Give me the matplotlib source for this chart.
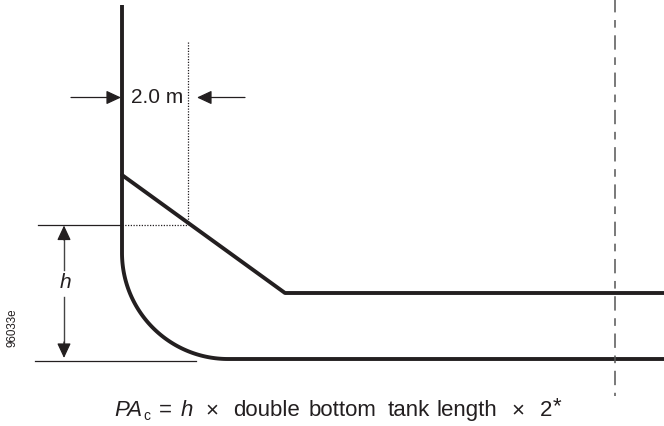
import numpy as np
import matplotlib
matplotlib.use("Agg")
import matplotlib.pyplot as plt

plt.rcParams['font.family'] = ['Liberation Sans', 'DejaVu Sans']

W, H = 664, 426
INK = '#231f20'

# Drawing values (pixel coordinates, y downwards)
hull_x = [122, 122]
hull_y = [5, 253]
arc_centre = (228, 253)
arc_radii = (106, 106)
keel_x = [228, 664]
keel_y = [359, 359]
tank_x = [122, 285, 664]
tank_y = [175, 293, 293]
top_ref_x = [38, 122]
top_ref_y = [224.5, 224.5]
bottom_ref_x = [35, 196]
bottom_ref_y = [360.5, 360.5]
dot_v_x = [188, 188]
dot_v_y = [42, 224.5]
dot_h_x = [122, 188]
dot_h_y = [224.5, 224.5]
centre_x = [615, 615]
centre_y = [0, 396]

fig = plt.figure(figsize=(W / 100, H / 100), dpi=100)
ax = fig.add_axes([0, 0, 1, 1])
ax.set_xlim(0, W)
ax.set_ylim(H, 0)
ax.axis('off')

theta = np.radians(np.linspace(180, 90, 80))
arc_x = arc_centre[0] + arc_radii[0] * np.cos(theta)
arc_y = arc_centre[1] + arc_radii[1] * np.sin(theta)
ax.plot(np.r_[hull_x, arc_x, keel_x], np.r_[hull_y, arc_y, keel_y],
        color=INK, lw=2.8, solid_joinstyle='round', solid_capstyle='butt')
ax.plot(tank_x, tank_y, color=INK, lw=2.8, solid_joinstyle='round', solid_capstyle='round')

ax.plot(top_ref_x, top_ref_y, color=INK, lw=0.9)
ax.plot(bottom_ref_x, bottom_ref_y, color=INK, lw=0.9)
ax.plot(dot_v_x, dot_v_y, color=INK, lw=0.9, ls=(0, (1, 1.2)))
ax.plot(dot_h_x, dot_h_y, color=INK, lw=0.9, ls=(0, (1, 1.2)))
ax.plot(centre_x, centre_y, color='#555555', lw=1.1,
        ls=(1.3, (9.4, 5, 5, 5)))


def arrow(tip, tail):
    ax.annotate('', xy=tip, xytext=tail,
                arrowprops=dict(arrowstyle='-|>,head_length=0.9,head_width=0.42',
                                color=INK, lw=0.9, shrinkA=0, shrinkB=0,
                                mutation_scale=10))


arrow((121, 97.5), (71, 97.5))
arrow((197, 97.5), (245, 97.5))
ax.plot([64, 64], [235, 270], color='#444444', lw=1)
ax.plot([64, 64], [297, 347], color='#444444', lw=1)
arrow((64, 225.5), (64, 240))
arrow((64, 358), (64, 342))

ax.text(131, 97.5, '2.0 m', fontsize=15, color=INK, va='center', ha='left')
ax.text(65, 283, 'h', fontsize=15, color=INK, style='italic', va='center', ha='center')
ax.text(12, 328, '96033e', fontsize=8.4, color=INK, rotation=90, va='center', ha='center')

base = 416
for x, s, kw in [
    (114, 'PA', dict(style='italic')),
    (143, 'c', dict(fontsize=10, y=420)),
    (159, '=', {}),
    (181, 'h', dict(style='italic')),
    (205, '×', {}),
    (233, 'double', {}),
    (309, 'bottom', {}),
    (388, 'tank', {}),
    (437, 'length', {}),
    (511, '×', {}),
    (540, '2', {}),
    (553, '*', dict(y=412)),
]:
    opts = dict(fontsize=16, color=INK, va='baseline', ha='left')
    y = kw.pop('y', base)
    opts.update(kw)
    ax.text(x, y, s, **opts)

fig.savefig('out.png', dpi=100)
